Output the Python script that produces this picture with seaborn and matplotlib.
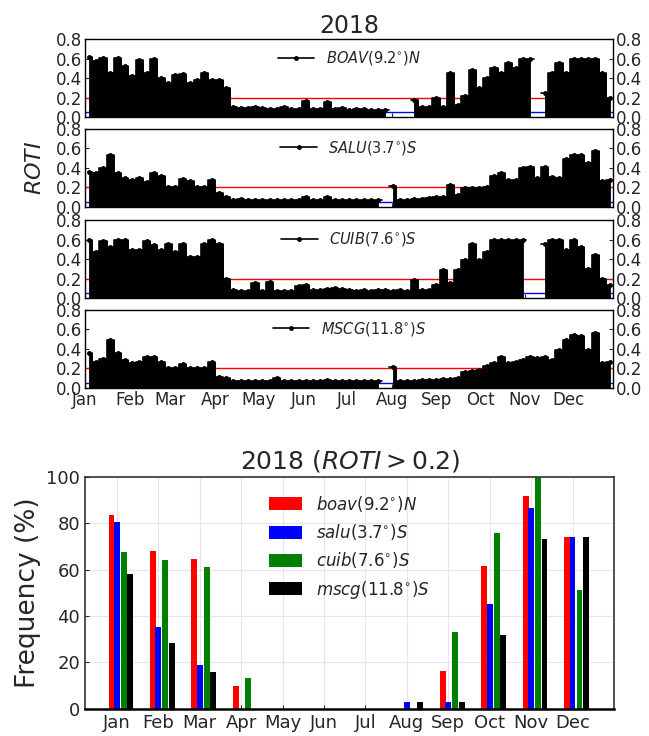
import numpy as np
import pandas as pd
import matplotlib
matplotlib.use('Agg')
import matplotlib.pyplot as plt
import seaborn as sns

nan = np.nan

months = ['Jan', 'Feb', 'Mar', 'Apr', 'May', 'Jun',
          'Jul', 'Aug', 'Sep', 'Oct', 'Nov', 'Dec']
month_start_day = [0, 31, 59, 90, 120, 151, 181, 212, 243, 273, 304, 334]

# peak ROTI in 5-day bins (Jan 1 .. Dec 31), nan = no data
bin_days = 5
boav_roti = [0.62, 0.57, 0.61, 0.45, 0.61, 0.52, 0.42, 0.58, 0.45, 0.60,
             0.40, 0.35, 0.43, 0.44, 0.35, 0.38, 0.45, 0.38, 0.38, 0.30,
             0.10, 0.09, 0.09, 0.10, 0.09, 0.08, 0.08, 0.10, 0.08, 0.08,
             0.16, 0.08, 0.08, 0.15, 0.08, 0.09, 0.07, 0.08, 0.08, 0.07,
             0.07, 0.07, nan, nan, nan, 0.17, 0.10, 0.10, 0.20, 0.10,
             0.45, 0.12, 0.22, 0.48, 0.30, 0.40, 0.50, 0.45, 0.55, 0.50,
             0.60, 0.60, nan, 0.25, 0.45, 0.55, 0.45, 0.60, 0.60, 0.60,
             0.60, 0.45, 0.20]
salu_roti = [0.36, 0.35, 0.40, 0.53, 0.35, 0.30, 0.28, 0.30, 0.25, 0.35,
             0.32, 0.20, 0.20, 0.29, 0.26, 0.20, 0.20, 0.28, 0.14, 0.10,
             0.07, 0.08, 0.07, 0.07, 0.07, 0.07, 0.07, 0.07, 0.07, 0.07,
             0.10, 0.07, 0.07, 0.10, 0.07, 0.07, 0.07, 0.07, 0.07, 0.07,
             0.07, nan, 0.21, 0.07, 0.07, 0.08, 0.08, 0.09, 0.10, 0.10,
             0.22, 0.12, 0.19, 0.19, 0.19, 0.20, 0.32, 0.35, 0.28, 0.28,
             0.40, 0.41, 0.30, 0.41, 0.31, 0.30, 0.49, 0.53, 0.53, 0.45,
             0.57, 0.26, 0.28]
cuib_roti = [0.60, 0.47, 0.59, 0.52, 0.60, 0.60, 0.49, 0.49, 0.59, 0.54,
             0.49, 0.55, 0.47, 0.55, 0.42, 0.42, 0.55, 0.60, 0.55, 0.20,
             0.08, 0.07, 0.07, 0.15, 0.07, 0.17, 0.07, 0.07, 0.07, 0.12,
             0.13, 0.08, 0.08, 0.09, 0.10, 0.09, 0.08, 0.07, 0.08, 0.07,
             0.08, 0.08, 0.07, 0.08, 0.07, 0.19, 0.08, 0.08, 0.13, 0.29,
             0.15, 0.29, 0.39, 0.55, 0.39, 0.47, 0.60, 0.60, 0.60, 0.60,
             0.60, nan, nan, 0.55, 0.60, 0.60, 0.49, 0.60, 0.52, 0.30,
             0.44, 0.20, 0.13]
mscg_roti = [0.36, 0.27, 0.30, 0.49, 0.36, 0.29, 0.25, 0.27, 0.32, 0.32,
             0.27, 0.20, 0.20, 0.24, 0.20, 0.20, 0.20, 0.27, 0.11, 0.10,
             0.07, 0.07, 0.07, 0.07, 0.07, 0.07, 0.10, 0.07, 0.07, 0.07,
             0.07, 0.07, 0.07, 0.085, 0.07, 0.07, 0.07, 0.07, 0.07, 0.07,
             0.07, nan, 0.21, 0.07, 0.07, 0.07, 0.08, 0.08, 0.08, 0.09,
             0.09, 0.10, 0.16, 0.17, 0.18, 0.22, 0.25, 0.32, 0.25, 0.27,
             0.29, 0.32, 0.31, 0.32, 0.29, 0.39, 0.49, 0.54, 0.53, 0.39,
             0.56, 0.25, 0.27]

station_labels = [r'$BOAV$(9.2$^{\circ}$)$N$', r'$SALU$(3.7$^{\circ}$)$S$',
                  r'$CUIB$(7.6$^{\circ}$)$S$', r'$MSCG$(11.8$^{\circ}$)$S$']
roti_threshold = 0.2
gap_level = 0.05

# monthly occurrence frequency (%) of ROTI > 0.2
freq_labels = [r'$boav$(9.2$^{\circ}$)$N$', r'$salu$(3.7$^{\circ}$)$S$',
               r'$cuib$(7.6$^{\circ}$)$S$', r'$mscg$(11.8$^{\circ}$)$S$']
boav_freq = [83.7, 68.0, 64.6, 9.7, 0, 0, 0, 0, 16.4, 61.4, 91.9, 74.3]
salu_freq = [80.7, 35.4, 18.9, 0, 0, 0, 0, 3.0, 3.0, 45.0, 86.6, 74.3]
cuib_freq = [67.7, 64.3, 61.3, 13.3, 0, 0, 0, 0, 33.1, 75.7, 100.0, 51.1]
mscg_freq = [58.0, 28.3, 16.0, 0, 0, 0, 0, 3.0, 3.0, 32.0, 73.4, 74.3]
bar_colors = ['red', 'blue', 'green', 'black']

sns.set_style('ticks')
plt.rcParams['font.family'] = ['DejaVu Sans']
plt.rcParams['xtick.direction'] = 'in'
plt.rcParams['ytick.direction'] = 'in'

fig = plt.figure(figsize=(6.49, 7.36), dpi=100)

# ---- top: ROTI time series ----
series = [boav_roti, salu_roti, cuib_roti, mscg_roti]
panel_bottoms = [0.841, 0.719, 0.595, 0.473]
day_centers = np.arange(len(boav_roti)) * bin_days + bin_days / 2

top_axes = []
for i, (vals, lab) in enumerate(zip(series, station_labels)):
    ax = fig.add_axes([0.131, panel_bottoms[i], 0.814, 0.106])
    vals = np.array(vals, dtype=float)
    ax.axhline(gap_level, color='blue', lw=1.0, zorder=1)
    ax.axhline(roti_threshold, color='red', lw=1.0, zorder=1)
    ax.fill_between(day_centers, 0, vals, step='mid', color='black',
                    edgecolor='black', lw=0.6, zorder=2)
    ax.plot(day_centers, vals, color='black', marker='.', ms=5, lw=1.2,
            drawstyle='steps-mid', label=lab, zorder=3)
    ax.set_xlim(0, 365)
    ax.set_ylim(0, 0.8)
    ax.set_yticks([0.0, 0.2, 0.4, 0.6, 0.8])
    ax.set_yticklabels(['0.0', '0.2', '0.4', '0.6', '0.8'])
    ax.set_xticks(month_start_day)
    ax.tick_params(axis='both', labelsize=12, length=3, pad=2,
                   left=True, right=True, labelright=True)
    if i < 3:
        ax.set_xticklabels([])
    else:
        ax.set_xticklabels(months)
    ax.legend(loc='upper center', frameon=False, fontsize=10.5, handlelength=2.5,
              borderaxespad=0.3)
    for s in ax.spines.values():
        s.set_linewidth(1.0)
        s.set_color('black')
    top_axes.append(ax)

top_axes[0].set_title('2018', fontsize=17, pad=4)
top_axes[1].set_ylabel(r'$ROTI$', fontsize=16, labelpad=8)

# ---- bottom: monthly frequency bars ----
df = pd.DataFrame({
    'month': months * 4,
    'station': sum([[lab] * 12 for lab in freq_labels], []),
    'freq': boav_freq + salu_freq + cuib_freq + mscg_freq,
})

axb = fig.add_axes([0.131, 0.037, 0.815, 0.315])
sns.barplot(data=df, x='month', y='freq', hue='station', palette=bar_colors,
            saturation=1, width=0.56, errorbar=None, linewidth=0, ax=axb)

# uneven dodge as in the original figure
bar_w = 0.14
bar_offsets = [-0.13, 0.0, 0.17, 0.325]
for cont, off in zip(axb.containers, bar_offsets):
    for k, patch in enumerate(cont.patches):
        patch.set_width(bar_w)
        patch.set_x(k + off - bar_w / 2)

axb.set_xlim(-0.77, 12.0)
axb.set_ylim(0, 100)
axb.set_yticks([0, 20, 40, 60, 80, 100])
axb.grid(True, color='#e6e6e6', lw=0.8)
axb.set_axisbelow(True)
axb.set_xlabel('')
axb.set_ylabel('Frequency (%)', fontsize=19)
axb.set_title(r'2018 ($ROTI>0.2$)', fontsize=18, pad=6)
axb.tick_params(axis='both', labelsize=13, length=3)
for s in axb.spines.values():
    s.set_linewidth(1.2)
    s.set_color('#333333')
axb.spines['bottom'].set_linewidth(1.8)
axb.spines['bottom'].set_color('black')
axb.legend(loc='upper center', frameon=False, fontsize=12, handlelength=2.0,
           handleheight=0.8, borderaxespad=0.6)

fig.savefig('out.png', dpi=100)
